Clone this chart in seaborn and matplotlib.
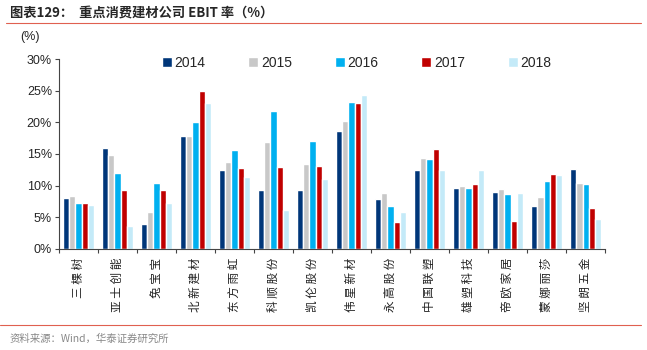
#!/usr/bin/env python3

import pandas as pd
import matplotlib.pyplot as plt
import seaborn as sns

companies = ['三棵树', '亚士创能', '兔宝宝', '北新建材', '东方雨虹', '科顺股份', '凯伦股份',
             '伟星新材', '永高股份', '中国联塑', '雄塑科技', '帝欧家居', '蒙娜丽莎', '坚朗五金']
years = ['2014', '2015', '2016', '2017', '2018']

ebit_2014 = [8.1, 16.0, 3.9, 17.8, 12.4, 9.35, 9.35, 18.6, 7.9, 12.4, 9.6, 9.0, 6.7, 12.6]
ebit_2015 = [8.4, 14.9, 5.8, 17.8, 13.8, 16.85, 13.4, 20.3, 8.8, 14.4, 10.0, 9.5, 8.2, 10.4]
ebit_2016 = [7.3, 12.0, 10.4, 20.0, 15.6, 21.8, 17.0, 23.2, 6.8, 14.2, 9.6, 8.6, 10.8, 10.3]
ebit_2017 = [7.2, 9.35, 9.3, 24.9, 12.8, 12.9, 13.05, 23.0, 4.3, 15.85, 10.25, 4.4, 11.9, 6.5]
ebit_2018 = [6.9, 3.6, 7.2, 23.0, 11.4, 6.1, 11.1, 24.3, 5.8, 12.5, 12.4, 8.8, 11.7, 4.75]

colors = ['#003679', '#C8C8C8', '#00B0F0', '#C00000', '#C4EAF8']


def build_frame():
    series = [ebit_2014, ebit_2015, ebit_2016, ebit_2017, ebit_2018]
    rows = []
    for year, vals in zip(years, series):
        for comp, v in zip(companies, vals):
            rows.append({'company': comp, 'year': year, 'value': v})
    return pd.DataFrame(rows)


def plot_ebit():
    sns.set_style('white')
    plt.rcParams['font.family'] = ['Noto Sans CJK SC', 'DejaVu Sans']

    df = build_frame()
    fig = plt.figure(figsize=(6.47, 3.5), dpi=100)
    ax = fig.add_axes([0.0912, 0.2894, 0.8441, 0.5412])

    sns.barplot(x='company', y='value', hue='year', data=df, palette=colors,
                saturation=1, width=0.8, ax=ax, order=companies, hue_order=years)

    ax.set_ylim(0, 30)
    ax.set_xlim(-0.5, len(companies) - 0.5)
    ax.set_yticks(range(0, 31, 5))
    ax.set_yticklabels([f'{v}%' for v in range(0, 31, 5)], fontsize=9,
                       family=['Liberation Sans', 'DejaVu Sans'])
    ax.set_xticks([i + 0.5 for i in range(-1, len(companies))])
    ax.set_xticklabels([])
    # labels run bottom-to-top, like Excel's rotated category axis
    for i, name in enumerate(companies):
        ax.text(i, -1.4, ' '.join(name), ha='center', va='top', fontsize=8.4,
                rotation=90, color='#222222')
    ax.set_xlabel('')
    ax.set_ylabel('')

    for side in ['top', 'right']:
        ax.spines[side].set_visible(False)
    for side in ['left', 'bottom']:
        ax.spines[side].set_color('#444444')
        ax.spines[side].set_linewidth(0.8)
    ax.tick_params(axis='both', which='both', direction='out', length=3,
                   color='#444444', bottom=True, left=True, pad=2)

    ax.legend(loc='upper center', bbox_to_anchor=(0.545, 1.085), ncol=5,
              frameon=False, handlelength=0.7, handleheight=0.7,
              handletextpad=0.2, columnspacing=3.1,
              prop={'family': ['Liberation Sans'], 'size': 10})

    fig.text(0.031, 0.885, '(%)', fontsize=9, family=['Liberation Sans'])
    fig.text(0.015, 0.965, '图表129：  重点消费建材公司 EBIT 率（%）', fontsize=9.5,
             fontweight='bold', va='center')
    fig.add_artist(plt.Line2D([0.01, 0.99], [0.933, 0.933], color='#E06050', lw=0.8))
    fig.add_artist(plt.Line2D([0.0, 0.99], [0.072, 0.072], color='#E06050', lw=0.8))
    fig.text(0.015, 0.033, '资料来源：Wind，华泰证券研究所', fontsize=7.5, color='#888888',
             va='center')

    fig.savefig('out.png', dpi=100)
    plt.close(fig)


def main():
    plot_ebit()


if __name__ == '__main__':
    main()
